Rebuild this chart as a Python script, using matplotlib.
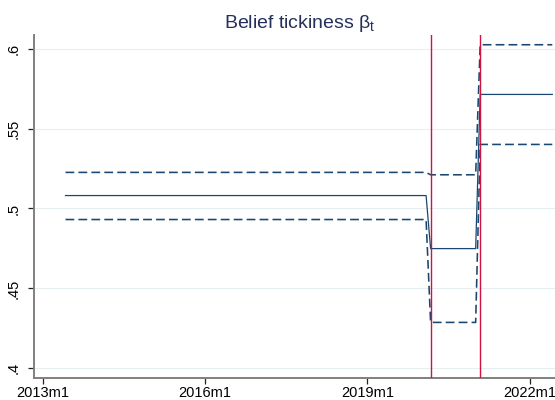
import matplotlib
matplotlib.use("Agg")
import matplotlib.pyplot as plt

# ---- data ----
months = ["2013m6", "2020m2", "2020m3", "2021m1", "2021m2", "2022m6"]
beta = [0.5081, 0.5081, 0.4749, 0.4749, 0.5714, 0.5714]
upper = [0.5226, 0.5226, 0.5211, 0.5211, 0.6025, 0.6025]
lower = [0.4931, 0.4931, 0.4287, 0.4287, 0.5401, 0.5401]
event_months = ["2020m3", "2021m2"]
xtick_labels = ["2013m1", "2016m1", "2019m1", "2022m1"]
yticks = [0.4, 0.45, 0.5, 0.55, 0.6]
ytick_labels = [".4", ".45", ".5", ".55", ".6"]
title = "Belief tickiness β$_\\mathregular{t}$"


def midx(s):
    y, m = s.split("m")
    return (int(y) - 2013) * 12 + int(m) - 1


x = [midx(s) for s in months]

plt.rcParams["font.family"] = ["Liberation Sans", "DejaVu Sans"]

fig = plt.figure(figsize=(5.55, 4.0), dpi=100)
ax = fig.add_axes([33.5 / 555, 22 / 400, 1 - 33.5 / 555, (378 - 35) / 400])

navy = "#1a476f"
ax.plot(x, beta, color=navy, lw=0.9, zorder=3)
ax.plot(x, upper, color=navy, lw=1.15, dashes=(5.5, 2.6), zorder=3)
ax.plot(x, lower, color=navy, lw=1.15, dashes=(5.5, 2.6), zorder=3)
for e in event_months:
    ax.axvline(midx(e), color="#d3123f", lw=1.0, zorder=4)

ax.set_xlim(-2.1, 113.6)
ax.set_ylim(0.3939, 0.6086)

ax.set_xticks([midx(s) for s in xtick_labels])
ax.set_xticklabels(xtick_labels, fontsize=10.5)
ax.set_yticks(yticks)
ax.set_yticklabels(ytick_labels, fontsize=10.5, rotation=90, va="center")

ax.grid(axis="y", color="#e6eef1", lw=0.8, zorder=0)
ax.set_axisbelow(True)

for sp in ["top", "right"]:
    ax.spines[sp].set_visible(False)
for sp in ["left", "bottom"]:
    ax.spines[sp].set_color("#808080")
    ax.spines[sp].set_linewidth(1.4)
ax.tick_params(axis="both", direction="out", length=4, width=0.9, color="#222222",
               labelcolor="black")
ax.tick_params(axis="x", pad=2)
ax.tick_params(axis="y", pad=5)

fig.text(300 / 555, 1 - 23 / 400, title, ha="center", va="center",
         fontsize=14, color="#24305a")

fig.savefig("out.png", dpi=100)
